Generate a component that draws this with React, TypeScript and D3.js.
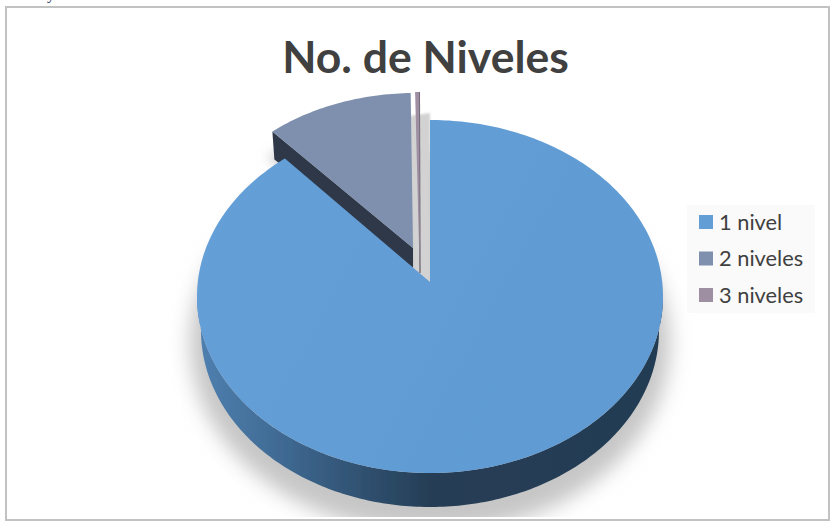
import React from "react";
import * as d3 from "d3";

const categories = ["1 nivel", "2 niveles", "3 niveles"];
const values = [89.3, 10.4, 0.3];
const topColors = ["#629dd6", "#7f90ae", "#9e8fa2"];
const sideColors = ["#253c52", "#2f3948", "#4a4350"];
const titleText = "No. de Niveles";

const W = 833;
const H = 527;
const RY = 176.5;
const DEPTH = 34;
// ellipse centre, width and apex of each slice, as displaced in the 3D view
const centres = [
  { cx: 430, cy: 296.5, rx: 233, ax: 430, ay: 282 },
  { cx: 415, cy: 269.5, rx: 229, ax: 413, ay: 248 },
  { cx: 419.5, cy: 268.5, rx: 233, ax: 419.5, ay: 265 },
];

const pieGen = d3.pie<number>().sort(null).startAngle(0).endAngle(2 * Math.PI);
const arcs = pieGen(values);
const line = d3.line<[number, number]>();

function rim(i: number, a0: number, a1: number, rx = centres[i].rx, ry = RY, dy = 0): [number, number][] {
  const c = centres[i];
  const n = Math.max(2, Math.ceil(Math.abs(a1 - a0) * 60));
  return d3.range(n + 1).map((k) => {
    const a = a0 + ((a1 - a0) * k) / n;
    return [c.cx + rx * Math.sin(a), c.cy + dy - ry * Math.cos(a)] as [number, number];
  });
}

function slicePath(i: number): string {
  const c = centres[i];
  const pts = rim(i, arcs[i].startAngle, arcs[i].endAngle);
  return (line([[c.ax, c.ay], ...pts]) as string) + "Z";
}

function mainWall(): string {
  const top = rim(0, Math.PI / 2, (3 * Math.PI) / 2);
  const bottom = rim(0, (3 * Math.PI) / 2, Math.PI / 2, centres[0].rx - 4, RY, DEPTH);
  return (line([...top, ...bottom]) as string) + "Z";
}

function cutWall(i: number, depthOuter: number, depthInner: number): string {
  const c = centres[i];
  const p = rim(i, arcs[i].startAngle, arcs[i].startAngle)[0];
  return (
    (line([
      [p[0], p[1]],
      [c.ax, c.ay],
      [c.ax, c.ay + depthInner],
      [p[0] + 2, p[1] + depthOuter],
    ]) as string) + "Z"
  );
}

export default function App() {
  const legendY = d3.scalePoint<string>().domain(categories).range([222, 295]);
  return (
    <svg
      width={W}
      height={H}
      viewBox={`0 0 ${W} ${H}`}
      style={{ position: "absolute", left: 0, top: 0, display: "block" }}
    >
      <defs>
        <linearGradient id="wall" gradientUnits="userSpaceOnUse" x1={197} x2={663} y1={0} y2={0}>
          <stop offset="0" stopColor="#4f80b0" />
          <stop offset="0.18" stopColor="#3f6a93" />
          <stop offset="0.36" stopColor="#2f506f" />
          <stop offset="0.5" stopColor="#263e56" />
          <stop offset="1" stopColor="#233c52" />
        </linearGradient>
        <linearGradient id="face" gradientUnits="userSpaceOnUse" x1={197} x2={663} y1={200} y2={450}>
          <stop offset="0" stopColor="#659fd8" />
          <stop offset="1" stopColor="#5f9ad2" />
        </linearGradient>
        <filter id="soft" x="-20%" y="-20%" width="140%" height="140%">
          <feGaussianBlur stdDeviation="10" />
        </filter>
        <filter id="softSmall" x="-30%" y="-30%" width="160%" height="160%">
          <feGaussianBlur stdDeviation="6" />
        </filter>
        <filter id="softBand" x="-50%" y="-10%" width="200%" height="120%">
          <feGaussianBlur stdDeviation="1" />
        </filter>
        <filter id="softTiny" x="-5%" y="-5%" width="110%" height="110%">
          <feGaussianBlur stdDeviation="0.5" />
        </filter>
        <clipPath id="plotClip">
          <rect x={100} y={80} width={620} height={437} />
        </clipPath>
      </defs>

      <rect x={0} y={0} width={W} height={H} fill="#ffffff" />
      <text x={47} y={-1} fontFamily="'Liberation Serif'" fontSize={16} fill="#1f2a5a">y</text>
      <rect x={6} y={7} width={823} height={513} fill="#ffffff" stroke="#c2c2c2" strokeWidth={2} />

      <text
        x={425.5}
        y={73}
        textAnchor="middle"
        fontFamily="Lato, 'Open Sans', sans-serif"
        fontWeight={700}
        fontSize={44.5}
        fill="#404040"
      >
        {titleText}
      </text>

      <g clipPath="url(#plotClip)">
        <ellipse cx={430} cy={343} rx={240} ry={190} fill="#c6c6c6" filter="url(#soft)" />
        <path d={slicePath(1)} fill="#cccccc" transform="translate(-5,26)" filter="url(#softSmall)" />
        <path
          d={(line([[409, 116], [430, 113], [431, 284], [414, 272]]) as string) + "Z"}
          fill="#d2d2d2"
          filter="url(#softBand)"
        />
      </g>

      <g filter="url(#softTiny)">
        <path d={mainWall()} fill="url(#wall)" />

        <path d={cutWall(1, 28, 20)} fill={sideColors[1]} />
        <path d={slicePath(1)} fill={topColors[1]} />

        <path
          d={
            (line([
              [centres[2].ax - 0.5, 92],
              [centres[2].ax + 0.5, 92],
              [centres[2].ax + 1, 273],
              [centres[2].ax, 273],
            ]) as string) + "Z"
          }
          fill={sideColors[2]}
        />
        <path d={slicePath(2)} fill={topColors[2]} />

        <path d={slicePath(0)} fill="url(#face)" />
      </g>

      <rect x={687} y={205} width={128} height={108} fill="#fafafa" />
      {categories.map((name, i) => (
        <g key={name}>
          <rect x={699} y={(legendY(name) as number) - 7} width={14} height={14} fill={topColors[i]} />
          <text
            x={719}
            y={(legendY(name) as number) + 7.5}
            fontFamily="Lato, 'Open Sans', sans-serif"
            fontSize={21.8}
            fill="#404040"
          >
            {name}
          </text>
        </g>
      ))}
    </svg>
  );
}
